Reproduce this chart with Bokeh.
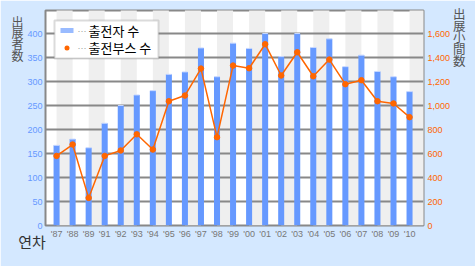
from bokeh.plotting import figure
from bokeh.models import (Range1d, LinearAxis, FixedTicker, NumeralTickFormatter,
                          BoxAnnotation, Label, ColumnDataSource)
from bokeh.embed import file_html
from bokeh.resources import INLINE

# ---- data ----
years = ["'87", "'88", "'89", "'91", "'92", "'93", "'94", "'95", "'96", "'97", "'98", "'99",
         "'00", "'01", "'02", "'03", "'04", "'05", "'06", "'07", "'08", "'09", "'10"]
exhibitors = [167, 180, 162, 213, 250, 272, 281, 315, 320, 370, 310, 380,
              369, 400, 352, 400, 371, 389, 331, 355, 321, 310, 279]
booths = [580, 675, 230, 580, 625, 760, 633, 1036, 1083, 1308, 736, 1333,
          1311, 1511, 1250, 1444, 1244, 1383, 1178, 1211, 1036, 1017, 903]
left_ticks = [0, 50, 100, 150, 200, 250, 300, 350, 400]
right_ticks = [0, 200, 400, 600, 800, 1000, 1200, 1400, 1600]
series_names = ["출전자 수", "출전부스 수"]
left_title = "出展者数"
right_title = "出展小間数"
x_title = "연차"

idx = list(range(len(years)))
src = ColumnDataSource(dict(x=idx, ex=exhibitors, bo=booths))

BG = "#d4e8ff"
p = figure(width=475, height=266, output_backend="svg", toolbar_location=None,
           x_range=Range1d(-0.69, len(years) - 0.13), y_range=Range1d(0, 448),
           min_border_left=45, min_border_right=52, min_border_top=10, min_border_bottom=41)
p.border_fill_color = BG
p.background_fill_color = "white"
p.outline_line_color = "#888888"
p.outline_line_width = 2
p.extra_y_ranges = {"right": Range1d(0, 448 * 4)}

# stripes
stripe_l = [i for i in idx if i % 2 == 0]
p.quad(left=stripe_l, right=[i + 1 for i in stripe_l], bottom=0, top=2000,
       fill_color="#efefef", line_color=None, level="image")

# grid
p.xgrid.visible = False
p.ygrid.ticker = FixedTicker(ticks=left_ticks[1:])
p.ygrid.grid_line_color = "#888888"
p.ygrid.grid_line_width = 2

# bars
p.vbar(x="x", top="ex", width=0.375, source=src, fill_color="#6699ff", line_color=None)
p.segment(x0=[i - 0.17 for i in idx], x1=[i + 0.17 for i in idx], y0=exhibitors, y1=exhibitors,
          line_color="#c8d8ff", line_width=1)

# line
p.line(x="x", y="bo", source=src, y_range_name="right", line_color="#ff6600", line_width=1.5)
p.scatter(x="x", y="bo", source=src, y_range_name="right", size=5.5,
          fill_color="#ff6600", line_color="#ff6600")

# axes
TF = "Liberation Sans"
CJK = "Noto Sans CJK JP"
PAD = "\n\u3000"


def style_axis(ax, color, standoff):
    ax.axis_line_color = None
    ax.major_tick_line_color = None
    ax.minor_tick_line_color = None
    ax.major_tick_out = 0
    ax.major_tick_in = 0
    ax.minor_tick_out = 0
    ax.minor_tick_in = 0
    ax.major_label_text_color = color
    ax.major_label_text_font = TF
    ax.major_label_text_font_size = "9px"
    ax.major_label_standoff = standoff


def style_title(ax, text, size, standoff, lh):
    ax.axis_label = text
    ax.axis_label_orientation = "horizontal"
    ax.axis_label_text_font = CJK
    ax.axis_label_text_font_size = size
    ax.axis_label_text_font_style = "normal"
    ax.axis_label_text_color = "#555555"
    ax.axis_label_text_line_height = lh
    ax.axis_label_standoff = standoff


p.yaxis.ticker = FixedTicker(ticks=left_ticks)
style_axis(p.yaxis[0], "#6699ff", 3)
style_title(p.yaxis[0], "\n".join(left_title) + PAD * 14, "12px", 1, 0.67)

ra = LinearAxis(y_range_name="right", ticker=FixedTicker(ticks=right_ticks),
                formatter=NumeralTickFormatter(format="0,0"))
style_axis(ra, "#ff6600", 4)
style_title(ra, "\n".join(right_title) + PAD * 14, "12.5px", 0, 0.61)
p.add_layout(ra, "right")

p.xaxis.ticker = FixedTicker(ticks=idx)
p.xaxis.major_label_overrides = {i: y for i, y in zip(idx, years)}
style_axis(p.xaxis[0], "#777777", 3)
p.xaxis.axis_label = x_title + "\u3000" * 26 + "\u2002" + "\u2002"
p.xaxis.axis_label_text_font = "Noto Sans CJK KR"
p.xaxis.axis_label_text_font_size = "15px"
p.xaxis.axis_label_text_font_style = "normal"
p.xaxis.axis_label_text_color = "#333333"
p.xaxis.axis_label_standoff = -11

# legend (manual; screen units relative to frame bottom-left)
p.add_layout(BoxAnnotation(left=9, right=113, bottom=167, top=205,
                           left_units="screen", right_units="screen",
                           bottom_units="screen", top_units="screen",
                           fill_color="white", fill_alpha=1, line_color="#888888", line_width=2))
p.add_layout(BoxAnnotation(left=15, right=28, bottom=192.5, top=197.5,
                           left_units="screen", right_units="screen",
                           bottom_units="screen", top_units="screen",
                           fill_color="#99bbff", fill_alpha=1, line_color=None))
p.add_layout(BoxAnnotation(left=19, right=24, bottom=175, top=180,
                           left_units="screen", right_units="screen",
                           bottom_units="screen", top_units="screen", border_radius=3,
                           fill_color="#ff6600", fill_alpha=1, line_color=None))
for k, name in enumerate(series_names):
    yy = 195 - 17 * k
    p.add_layout(Label(x=32, y=yy, x_units="screen", y_units="screen", text="···",
                       text_font=TF, text_font_size="9px", text_color="#999999",
                       text_align="left", text_baseline="middle"))
    p.add_layout(Label(x=43, y=yy, x_units="screen", y_units="screen", text=name,
                       text_font="Noto Sans CJK KR", text_font_size="13px", text_color="#000000",
                       text_align="left", text_baseline="middle"))

open("out.html", "w").write(file_html(p, INLINE))
